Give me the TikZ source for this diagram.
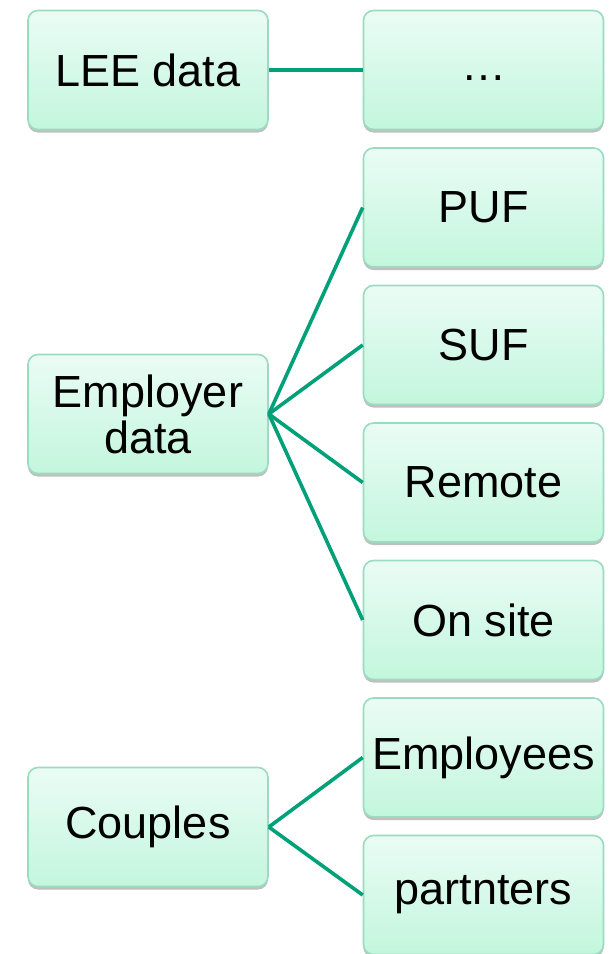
\documentclass[tikz,border=0pt]{standalone}
\usepackage{fontspec}
\setmainfont{Liberation Sans}
\usetikzlibrary{shadows}
\definecolor{boxtop}{HTML}{EAFCF5}
\definecolor{boxbot}{HTML}{C3F6DD}
\definecolor{boxline}{HTML}{9BDBBF}
\definecolor{linkgreen}{HTML}{00A078}
\begin{document}
\begin{tikzpicture}[node distance=167.75pt, auto,
	box/.style={draw=boxline, line width=0.8pt, rounded corners=5pt, top color=boxtop, bottom color=boxbot, minimum width=120pt, minimum height=59.5pt, align=center, font=\fontsize{22.5}{23}\selectfont, drop shadow={shadow xshift=0pt, shadow yshift=-1.5pt, opacity=0.25, fill=black}},
	link/.style={draw=linkgreen, line width=1.8pt}]
	\useasboundingbox (-74pt,35pt) rectangle (231pt,-442pt);
	\node[box] (lee) {LEE data};
	\node[box] (dots) [right of=lee] {\vphantom{Ag}…};
	\node[box] (puf) [below of=dots, node distance=68.75pt] {PUF};
	\node[box] (suf) [below of=puf, node distance=68.75pt] {SUF};
	\node[box] (remote) [below of=suf, node distance=68.75pt] {Remote};
	\node[box] (onsite) [below of=remote, node distance=68.75pt] {On site};
	\node[box] (staff) [below of=onsite, node distance=68.75pt] {Employees};
	\node[box] (partners) [below of=staff, node distance=68.75pt] {partnters};
	\node[box] (emp) [below of=lee, node distance=172pt] {Employer\\data};
	\node[box] (couples) [below of=emp, node distance=206.5pt] {Couples};
	
	\draw[link] (lee) to (dots);
	\draw[link] (emp.east) to (puf.west);
	\draw[link] (emp.east) to (suf.west);
	\draw[link] (emp.east) to (remote.west);
	\draw[link] (emp.east) to (onsite.west);
	\draw[link] (couples.east) to (staff.west);
	\draw[link] (couples.east) to (partners.west);
\end{tikzpicture}
\end{document}
